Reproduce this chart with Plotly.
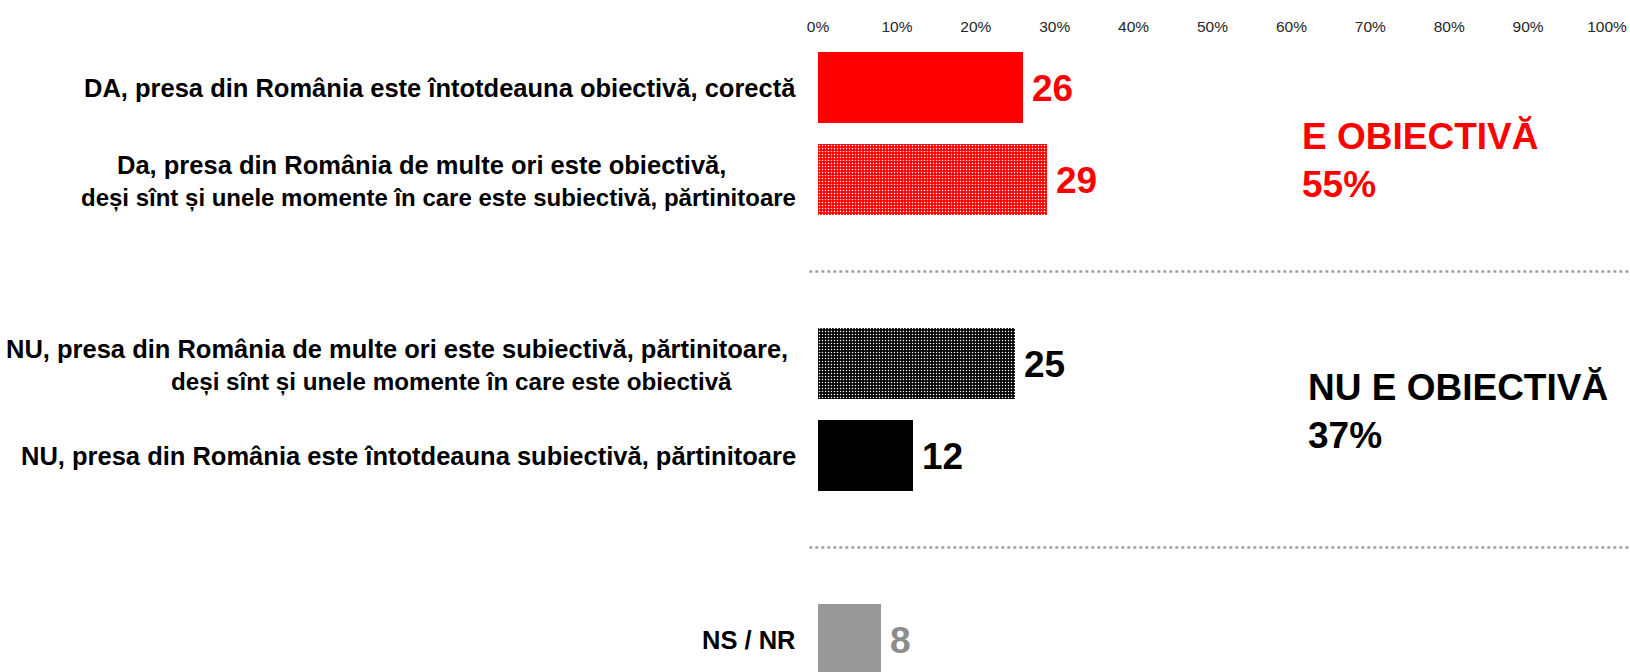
import plotly.graph_objects as go

# ---- data ----
labels = [
    ["DA, presa din România este întotdeauna obiectivă, corectă"],
    ["Da, presa din România de multe ori este obiectivă,",
     "deși sînt și unele momente în care este subiectivă, părtinitoare"],
    ["NU, presa din România de multe ori este subiectivă, părtinitoare,",
     "deși sînt și unele momente în care este obiectivă"],
    ["NU, presa din România este întotdeauna subiectivă, părtinitoare"],
    ["NS / NR"],
]
values = [26, 29, 25, 12, 8]
group_titles = ["E OBIECTIVĂ", "NU E OBIECTIVĂ"]
group_totals = [55, 37]
tick_values = [0, 10, 20, 30, 40, 50, 60, 70, 80, 90, 100]
tick_labels = ["0%", "10%", "20%", "30%", "40%", "50%", "60%", "70%", "80%", "90%", "100%"]

# ---- style / layout ----
W, H = 1630, 672
ML, MR, MT, MB = 818, 23, 36, 0
ypos = [0, 1, 3, 4, 6]
unit_px = 92.0
y0_px = 87.5
y_top = -(y0_px - MT) / unit_px
y_bot = (H - y0_px) / unit_px

bar_colors = ["#FF0000", "#FF0000", "#000000", "#000000", "#999999"]
patterned = [False, True, True, False, False]
value_colors = ["#FF0000", "#FF0000", "#000000", "#000000", "#8C8C8C"]
group_colors = ["#FF0000", "#000000"]
FONT = "Liberation Sans, Arial, sans-serif"

fig = go.Figure()
for i, (v, y) in enumerate(zip(values, ypos)):
    marker = dict(color=bar_colors[i], line=dict(width=0))
    if patterned[i]:
        marker["pattern"] = dict(shape=".", fgcolor="#FFFFFF", bgcolor=bar_colors[i],
                                 size=3, solidity=0.2, fillmode="replace")
    fig.add_trace(go.Bar(x=[v], y=[y], orientation="h", width=0.77,
                         marker=marker, showlegend=False, hoverinfo="skip"))

annotations = []
# value labels
for i, (v, y) in enumerate(zip(values, ypos)):
    annotations.append(dict(x=v, y=y, xref="x", yref="y", text=f"<b>{v}</b>",
                            showarrow=False, xanchor="left", yanchor="middle",
                            xshift=7, yshift=-1,
                            font=dict(size=37, color=value_colors[i], family=FONT)))

# category labels (line-by-line)
line_right = [[-20], [-90, -20], [-28, -84], [-20], [-20]]
line_size = [[25.5], [25.5, 24], [25.5, 24.2], [25.5], [25.5]]
line_shift = {1: [0], 2: [15, -18]}
for i, (lines, y) in enumerate(zip(labels, ypos)):
    shifts = line_shift[len(lines)]
    for j, line in enumerate(lines):
        annotations.append(dict(x=0, y=y, xref="x", yref="y", text=f"<b>{line}</b>",
                                showarrow=False, xanchor="right", yanchor="middle",
                                xshift=line_right[i][j], yshift=shifts[j],
                                font=dict(size=line_size[i][j], color="#000000", family=FONT)))

# group summaries
group_y = [0.795, 3.525]
group_x = [61.1, 61.9]
for k in range(2):
    annotations.append(dict(x=group_x[k], y=group_y[k], xref="x", yref="y",
                            text=f"<b>{group_titles[k]}</b><br><b>{group_totals[k]}%</b>",
                            showarrow=False, xanchor="left", yanchor="middle", align="left",
                            font=dict(size=37, color=group_colors[k], family=FONT)))

shapes = []
for ly in [2, 5]:
    shapes.append(dict(type="line", xref="paper", yref="y",
                       x0=-0.011, x1=1.03, y0=ly, y1=ly,
                       line=dict(color="#A0A0A0", width=2.5, dash="dot")))

fig.update_layout(
    width=W, height=H,
    margin=dict(l=ML, r=MR, t=MT, b=MB, pad=0),
    paper_bgcolor="white", plot_bgcolor="white",
    bargap=0,
    xaxis=dict(range=[0, 100], side="top", tickmode="array",
               tickvals=tick_values, ticktext=tick_labels,
               showgrid=False, zeroline=False, showline=False, ticks="",
               tickfont=dict(size=15.5, color="#262626",
                             family="Liberation Sans Narrow, Liberation Sans, Arial, sans-serif"),
               fixedrange=True),
    yaxis=dict(range=[y_bot, y_top], showticklabels=False, showgrid=False,
               zeroline=False, showline=False, ticks="", fixedrange=True),
    annotations=annotations,
    shapes=shapes,
)

fig.write_html("out.html", config={"displayModeBar": False},
               post_script="document.body.style.margin='0';")
